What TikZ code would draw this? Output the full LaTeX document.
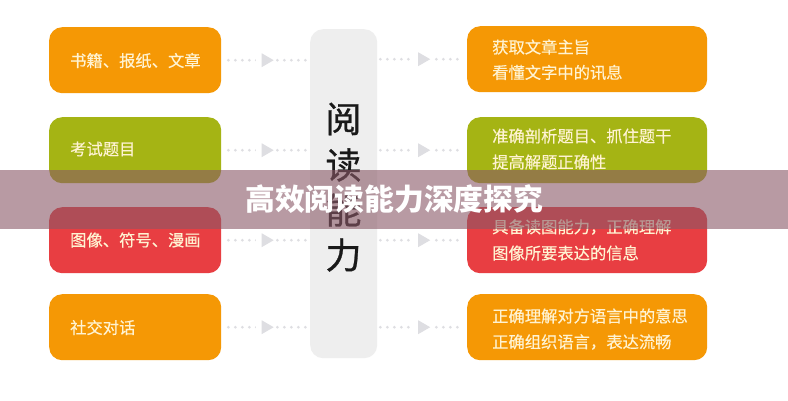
\documentclass[tikz,border=0pt]{standalone}
\usepackage{fontspec}
\setmainfont{Noto Sans CJK SC}
\newfontfamily\boxfont[FakeBold=0.35]{Noto Sans CJK SC}
\newfontfamily\hubfont[FakeBold=0.8]{Noto Sans CJK SC}
\usetikzlibrary{shapes.geometric}
\definecolor{cOrange}{RGB}{245,152,5}
\definecolor{cOlive}{RGB}{165,180,20}
\definecolor{cRed}{RGB}{232,62,66}
\definecolor{cHub}{RGB}{238,238,238}
\definecolor{cBand}{RGB}{137,88,102}
\definecolor{cLine}{RGB}{222,222,226}
\definecolor{cBoxText}{RGB}{255,243,210}
\tikzset{
  x=1pt,y=-1pt,
  boxbase/.style={rounded corners=13pt,inner sep=0pt,anchor=north west},
  leftbox/.style={boxbase,minimum width=172pt,minimum height=66pt},
  rightbox/.style={boxbase,minimum width=240pt,minimum height=66pt},
  boxtext/.style={anchor=west,text=cBoxText,font=\boxfont\fontsize{16.3}{16.3}\selectfont,inner sep=0pt},
  hubtext/.style={text=black!90,font=\hubfont\fontsize{36}{36}\selectfont,inner sep=0pt},
  link/.style={cLine,line width=3pt,line cap=round,dash pattern=on 0pt off 7pt},
  tipmark/.style={regular polygon,regular polygon sides=3,shape border rotate=-90,fill=cLine,minimum size=16pt,inner sep=0pt},
}
\begin{document}
\begin{tikzpicture}
\useasboundingbox (0,0) rectangle (788,400);
\fill[white] (0,0) rectangle (788,400);
% hub
\node[boxbase,fill=cHub,minimum width=67pt,minimum height=329pt] (hub) at (310,29) {};
\node[hubtext] (h1) at (343.5,119) {阅};
\node[hubtext] (h2) at (343.5,165) {读};
\node[hubtext] (h3) at (343.5,210) {能};
\node[hubtext] (h4) at (343.5,255) {力};
% left
\node[leftbox,fill=cOrange] (l1) at (49,27) {};
\node[leftbox,fill=cOlive] (l2) at (49,117) {};
\node[leftbox,fill=cRed] (l3) at (49,207) {};
\node[leftbox,fill=cOrange] (l4) at (49,294) {};
% right
\node[rightbox,fill=cOrange] (r1) at (467,26) {};
\node[rightbox,fill=cOlive] (r2) at (467,117) {};
\node[rightbox,fill=cRed] (r3) at (467,207) {};
\node[rightbox,fill=cOrange] (r4) at (467,294) {};
% connectors
\foreach \n in {1,2,3,4}{
  \draw[link,shorten <=7pt,shorten >=2pt] (l\n.east) -- (l\n.east -| hub.west);
  \draw[link,shorten <=3pt,shorten >=5pt] (hub.east |- r\n.west) -- (r\n.west);
  \path (l\n.east) -- (l\n.east -| hub.west) coordinate[pos=0.5] (lm\n);
  \path (hub.east |- r\n.west) -- (r\n.west) coordinate[pos=0.5] (rm\n);
  \node[fill=white,minimum width=20pt,minimum height=16pt,inner sep=0pt] (lg\n) at (lm\n) {};
  \node[fill=white,minimum width=20pt,minimum height=16pt,inner sep=0pt] (rg\n) at (rm\n) {};
  \node[tipmark] (lt\n) at (lm\n) {};
  \node[tipmark] (rt\n) at (rm\n) {};
}
% left text
\node[boxtext] (lt1x) at (70,60.5) {书籍、报纸、文章};
\node[boxtext] (lt2x) at (70,149) {考试题目};
\node[boxtext] (lt3x) at (70,240) {图像、符号、漫画};
\node[boxtext] (lt4x) at (70,327.5) {社交对话};
% right text
\node[boxtext] (rt1a) at (492,47) {获取文章主旨};
\node[boxtext] (rt1b) at (492,72.5) {看懂文字中的讯息};
\node[boxtext] (rt2a) at (492,136) {准确剖析题目、抓住题干};
\node[boxtext] (rt2b) at (492,162) {提高解题正确性};
\node[boxtext] (rt3a) at (492,227) {具备读图能力，正确理解};
\node[boxtext] (rt3b) at (492,253) {图像所要表达的信息};
\node[boxtext] (rt4a) at (492,316) {正确理解对方语言中的意思};
\node[boxtext] (rt4b) at (492,342) {正确组织语言，表达流畅};
% band
\fill[cBand,fill opacity=0.6] (0,170) rectangle (788,229);
\node[text=white,font=\fontsize{29.8}{30}\selectfont\bfseries,inner sep=0pt,anchor=west] (title) at (245,199) {高效阅读能力深度探究};
\end{tikzpicture}
\end{document}
